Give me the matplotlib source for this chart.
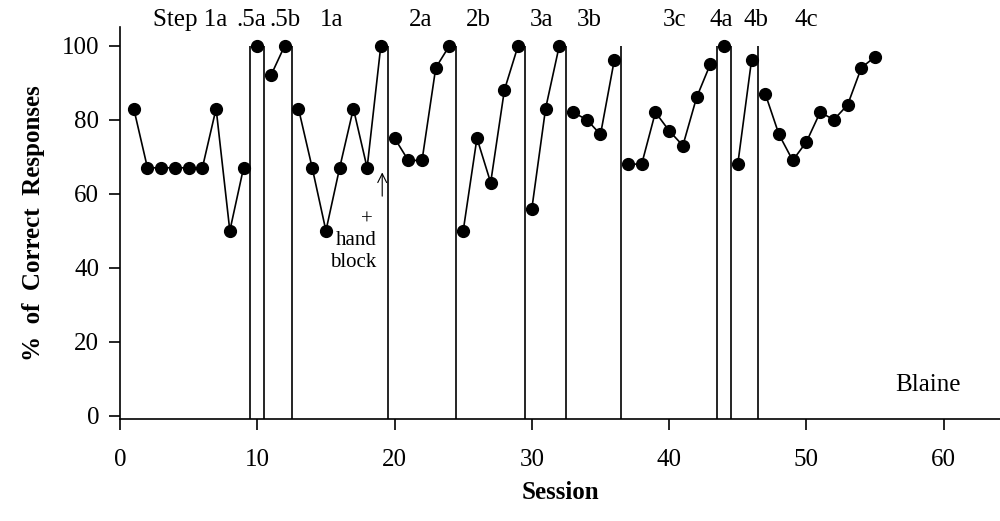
import matplotlib
matplotlib.use("Agg")
import matplotlib.pyplot as plt
import numpy as np

plt.rcParams['font.family'] = ['Liberation Serif', 'DejaVu Serif']

# session data (% correct), split into phases
sessions = list(range(1, 56))
correct = [83, 67, 67, 67, 67, 67, 83, 50, 67,
           100,
           92, 100,
           83, 67, 50, 67, 83, 67, 100,
           75, 69, 69, 94, 100,
           50, 75, 63, 88, 100,
           56, 83, 100,
           82, 80, 76, 96,
           68, 68, 82, 77, 73, 86, 95,
           100,
           68, 96,
           87, 76, 69, 74, 82, 80, 84, 94, 97]

# phase change lines (between sessions)
phase_lines = [9.5, 10.5, 12.5, 19.5, 24.5, 29.5, 32.5, 36.5, 43.5, 44.5, 46.5]
phase_names = ['Step 1a', '.5a', '.5b', '1a', '2a', '2b', '3a', '3b', '3c', '4a', '4b', '4c']
phase_label_x = [5.1, 9.55, 12.05, 15.4, 21.9, 26.1, 30.7, 34.2, 40.4, 43.8, 46.3, 50.0]

fig = plt.figure(figsize=(10, 5.21), dpi=100)
ax = fig.add_axes([0.12, 0.196, 0.88, 0.752])

x = np.array(sessions)
y = np.array(correct)
edges = [0] + phase_lines + [100]
for lo, hi in zip(edges[:-1], edges[1:]):
    m = (x > lo) & (x < hi)
    ax.plot(x[m], y[m], color='black', lw=1.2, marker='o', ms=8.5,
            mfc='black', mec='black', clip_on=False, zorder=3)

ax.set_xlim(0, 64.1)
ax.set_ylim(-0.8, 105)
ax.vlines(phase_lines, -0.8, 100, color='black', lw=1.2)

for name, px in zip(phase_names, phase_label_x):
    ax.text(px, 106.8, name, ha='center', va='center', fontsize=18, clip_on=False)

# hand block annotation
ax.text(18.0, 53.0, '+', ha='center', va='center', fontsize=15)
ax.text(18.7, 44.3, 'hand\nblock', ha='right', va='center', fontsize=15,
        multialignment='right', linespacing=1.2)
ax.annotate('', xy=(19.1, 66.5), xytext=(19.1, 58.6),
            arrowprops=dict(arrowstyle='->', color='black', lw=0.8,
                            mutation_scale=16))

ax.text(61.25, 8.3, 'Blaine', ha='right', va='center', fontsize=18)

ax.set_xticks([0, 10, 20, 30, 40, 50, 60])
ax.set_yticks([0, 20, 40, 60, 80, 100])
ax.tick_params(axis='both', direction='out', length=8, width=1.2, labelsize=18)
ax.tick_params(axis='y', pad=7)
ax.tick_params(axis='x', pad=14)
ax.spines['top'].set_visible(False)
ax.spines['right'].set_visible(False)
ax.spines['left'].set_linewidth(1.2)
ax.spines['bottom'].set_linewidth(1.2)

ax.set_xlabel('Session', fontsize=18, fontweight='bold', labelpad=7)
ax.set_ylabel('%  of  Correct  Responses', fontsize=18, fontweight='bold', labelpad=12)

fig.savefig('out.png', dpi=100)
